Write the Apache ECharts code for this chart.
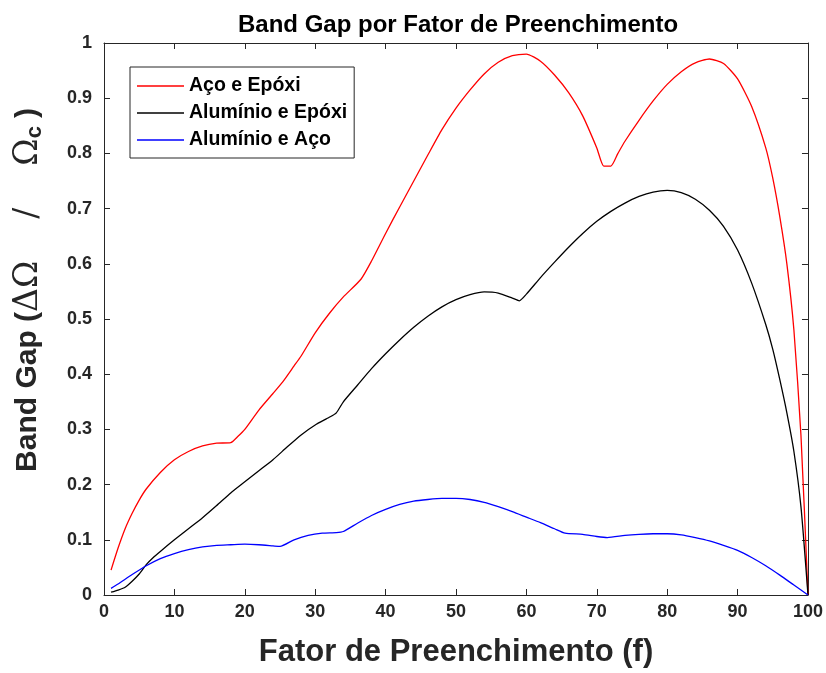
<!DOCTYPE html>
<html>
<head>
<meta charset="utf-8">
<script src="https://cdn.jsdelivr.net/npm/echarts@6/dist/echarts.min.js"></script>
<style>
  html, body { margin: 0; padding: 0; background: #ffffff; }
  #chart { width: 826px; height: 673px; }
</style>
</head>
<body>
<div id="chart"></div>
<script>
// Band gap vs. filling fraction for three material pairs
const seriesNames = ['Aço e Epóxi', 'Alumínio e Epóxi', 'Alumínio e Aço'];

const acoEpoxiF = [1, 2, 3, 4, 5, 6, 8, 10, 12, 14, 16, 18, 19, 20, 22, 24, 25.5, 27, 28, 30, 32, 34, 36.5, 38, 40,
  42, 44, 46, 48, 50, 52, 54, 56, 58, 60, 62, 64, 66, 68, 70, 71, 72, 73, 74, 76, 78, 80, 82, 84, 86, 88, 90,
  92, 94, 95, 96, 97, 98, 99, 100];
const acoEpoxiBG = [0.045, 0.085, 0.12, 0.148, 0.172, 0.192, 0.222, 0.245, 0.26, 0.27, 0.275, 0.276, 0.287, 0.30,
  0.335, 0.365, 0.388, 0.415, 0.433, 0.475, 0.51, 0.54, 0.572, 0.605, 0.655,
  0.703, 0.75, 0.797, 0.843, 0.882, 0.915, 0.944, 0.965, 0.977, 0.98, 0.967, 0.942, 0.91, 0.868, 0.81, 0.777,
  0.777, 0.80, 0.822, 0.86, 0.895, 0.925, 0.948, 0.964, 0.971, 0.963, 0.935,
  0.885, 0.81, 0.755, 0.685, 0.60, 0.48, 0.29, 0.0];

const aluEpoxiF = [1, 2, 3, 4, 5, 6, 7, 8, 10, 12, 14, 16, 18, 20, 22, 24, 26, 28, 30, 32, 33, 34, 36, 38, 40,
  42, 44, 46, 48, 50, 52, 54, 56, 58, 59, 60, 62, 64, 66, 68, 70, 72, 74, 76, 78, 80, 82, 84, 86, 88, 90,
  92, 94, 95, 96, 97, 98, 99, 100];
const aluEpoxiBG = [0.005, 0.009, 0.014, 0.025, 0.038, 0.055, 0.068, 0.079, 0.1, 0.12, 0.14, 0.162, 0.185, 0.205,
  0.225, 0.245, 0.268, 0.29, 0.308, 0.322, 0.33, 0.35, 0.38, 0.41, 0.437,
  0.462, 0.485, 0.505, 0.522, 0.535, 0.544, 0.549, 0.547, 0.538, 0.533, 0.545, 0.575, 0.603, 0.63, 0.655, 0.677,
  0.695, 0.71, 0.722, 0.73, 0.733, 0.729, 0.717, 0.697, 0.668, 0.625,
  0.565, 0.49, 0.445, 0.39, 0.33, 0.26, 0.16, 0.0];

const aluAcoF = [1, 2, 4, 6, 8, 10, 12, 14, 16, 18, 20, 22, 24, 25, 27, 29, 31, 33, 34, 36, 38, 40, 42, 44, 46,
  48, 50, 52, 54, 56, 58, 60, 62, 64, 65.5, 68, 70, 71.5, 74, 76, 78, 80, 82, 84, 86, 88, 90, 92, 94, 96,
  98, 100];
const aluAcoBG = [0.012, 0.02, 0.037, 0.053, 0.066, 0.075, 0.082, 0.087, 0.09, 0.091, 0.092, 0.091, 0.089, 0.088,
  0.1, 0.108, 0.112, 0.113, 0.115, 0.13, 0.144, 0.155, 0.164, 0.17, 0.173,
  0.175, 0.175, 0.173, 0.168, 0.16, 0.151, 0.141, 0.131, 0.12, 0.112, 0.11, 0.106, 0.104, 0.108, 0.11,
  0.111, 0.111, 0.109, 0.104, 0.098, 0.09, 0.081, 0.068, 0.053, 0.036, 0.018, 0.0];

const xTicks = [0, 10, 20, 30, 40, 50, 60, 70, 80, 90, 100];
const yTickLabels = ['0', '0.1', '0.2', '0.3', '0.4', '0.5', '0.6', '0.7', '0.8', '0.9', '1'];

const colors = ['#ff0000', '#000000', '#0000ff'];
const FONT = 'Liberation Sans, Arial, Helvetica, sans-serif';
const INK = '#262626';

function pairs(xs, ys) {
  return xs.map((x, i) => [x, ys[i]]);
}

const chart = echarts.init(document.getElementById('chart'), null, { renderer: 'canvas' });

// Boxed frame: ticks pointing inward on all four sides
const frameAxis = {
  min: 0,
  axisLine: { show: true, onZero: false, lineStyle: { color: INK, width: 1 } },
  axisTick: { show: true, inside: true, length: 6, lineStyle: { color: INK, width: 1 } },
  splitLine: { show: false }
};

chart.setOption({
  backgroundColor: '#ffffff',
  animation: false,
  title: {
    text: 'Band Gap por Fator de Preenchimento',
    left: 233,
    top: 8,
    textStyle: { fontFamily: FONT, fontSize: 24, fontWeight: 'bold', color: '#000000' }
  },
  grid: { left: 104, top: 43, width: 704, height: 552, containLabel: false },
  legend: {
    orient: 'vertical',
    left: 130,
    top: 67,
    padding: [9, 7, 8, 7],
    itemGap: 7,
    itemWidth: 47,
    itemHeight: 1.4,
    icon: 'rect',
    borderColor: INK,
    borderWidth: 1,
    backgroundColor: '#ffffff',
    data: seriesNames,
    textStyle: { fontFamily: FONT, fontSize: 19.5, fontWeight: 'bold', color: '#000000' }
  },
  xAxis: [
    Object.assign({}, frameAxis, {
      type: 'value', position: 'bottom', max: 100, interval: 10,
      axisLabel: {
        show: true, margin: 8, fontFamily: FONT, fontSize: 18, fontWeight: 'bold', color: INK,
        formatter: (v) => String(xTicks[Math.round(v / 10)])
      },
      name: 'Fator de Preenchimento (f)',
      nameLocation: 'middle',
      nameGap: 42,
      nameTextStyle: { fontFamily: FONT, fontSize: 31, fontWeight: 'bold', color: INK }
    }),
    Object.assign({}, frameAxis, {
      type: 'value', position: 'top', max: 100, interval: 10,
      axisLabel: { show: false }
    })
  ],
  yAxis: [
    Object.assign({}, frameAxis, {
      type: 'value', position: 'left', max: 1, interval: 0.1,
      axisLabel: {
        show: true, margin: 12, fontFamily: FONT, fontSize: 18, fontWeight: 'bold', color: INK,
        formatter: (v) => yTickLabels[Math.round(v * 10)]
      },
      name: '{m0|Band Gap (}{g|ΔΩ    /    Ω}{s|c}{m|)}',
      nameLocation: 'middle',
      nameRotate: 90,
      nameGap: 58,
      nameTextStyle: {
        fontFamily: FONT, fontSize: 30, fontWeight: 'bold', color: INK,
        rich: {
          m0: { fontFamily: FONT, fontSize: 30, fontWeight: 'bold', color: INK, lineHeight: 36, verticalAlign: 'middle', padding: [0, 0, 0, 58] },
          m: { fontFamily: FONT, fontSize: 30, fontWeight: 'bold', color: INK, lineHeight: 36, verticalAlign: 'middle', padding: [0, 0, 0, 8] },
          g: { fontFamily: 'DejaVu Serif, serif', fontSize: 33, fontWeight: 'normal', color: INK, lineHeight: 36, verticalAlign: 'middle' },
          s: { fontFamily: FONT, fontSize: 22, fontWeight: 'bold', color: INK, lineHeight: 20, verticalAlign: 'bottom' }
        }
      }
    }),
    Object.assign({}, frameAxis, {
      type: 'value', position: 'right', max: 1, interval: 0.1,
      axisLabel: { show: false }
    })
  ],
  series: [
    { name: seriesNames[0], data: pairs(acoEpoxiF, acoEpoxiBG), color: colors[0] },
    { name: seriesNames[1], data: pairs(aluEpoxiF, aluEpoxiBG), color: colors[1] },
    { name: seriesNames[2], data: pairs(aluAcoF, aluAcoBG), color: colors[2] }
  ].map((s) => ({
    type: 'line',
    name: s.name,
    data: s.data,
    xAxisIndex: 0,
    yAxisIndex: 0,
    symbol: 'none',
    smooth: 0.2,
    lineStyle: { color: s.color, width: 1.3 },
    itemStyle: { color: s.color },
    z: 3
  }))
});
</script>
</body>
</html>
